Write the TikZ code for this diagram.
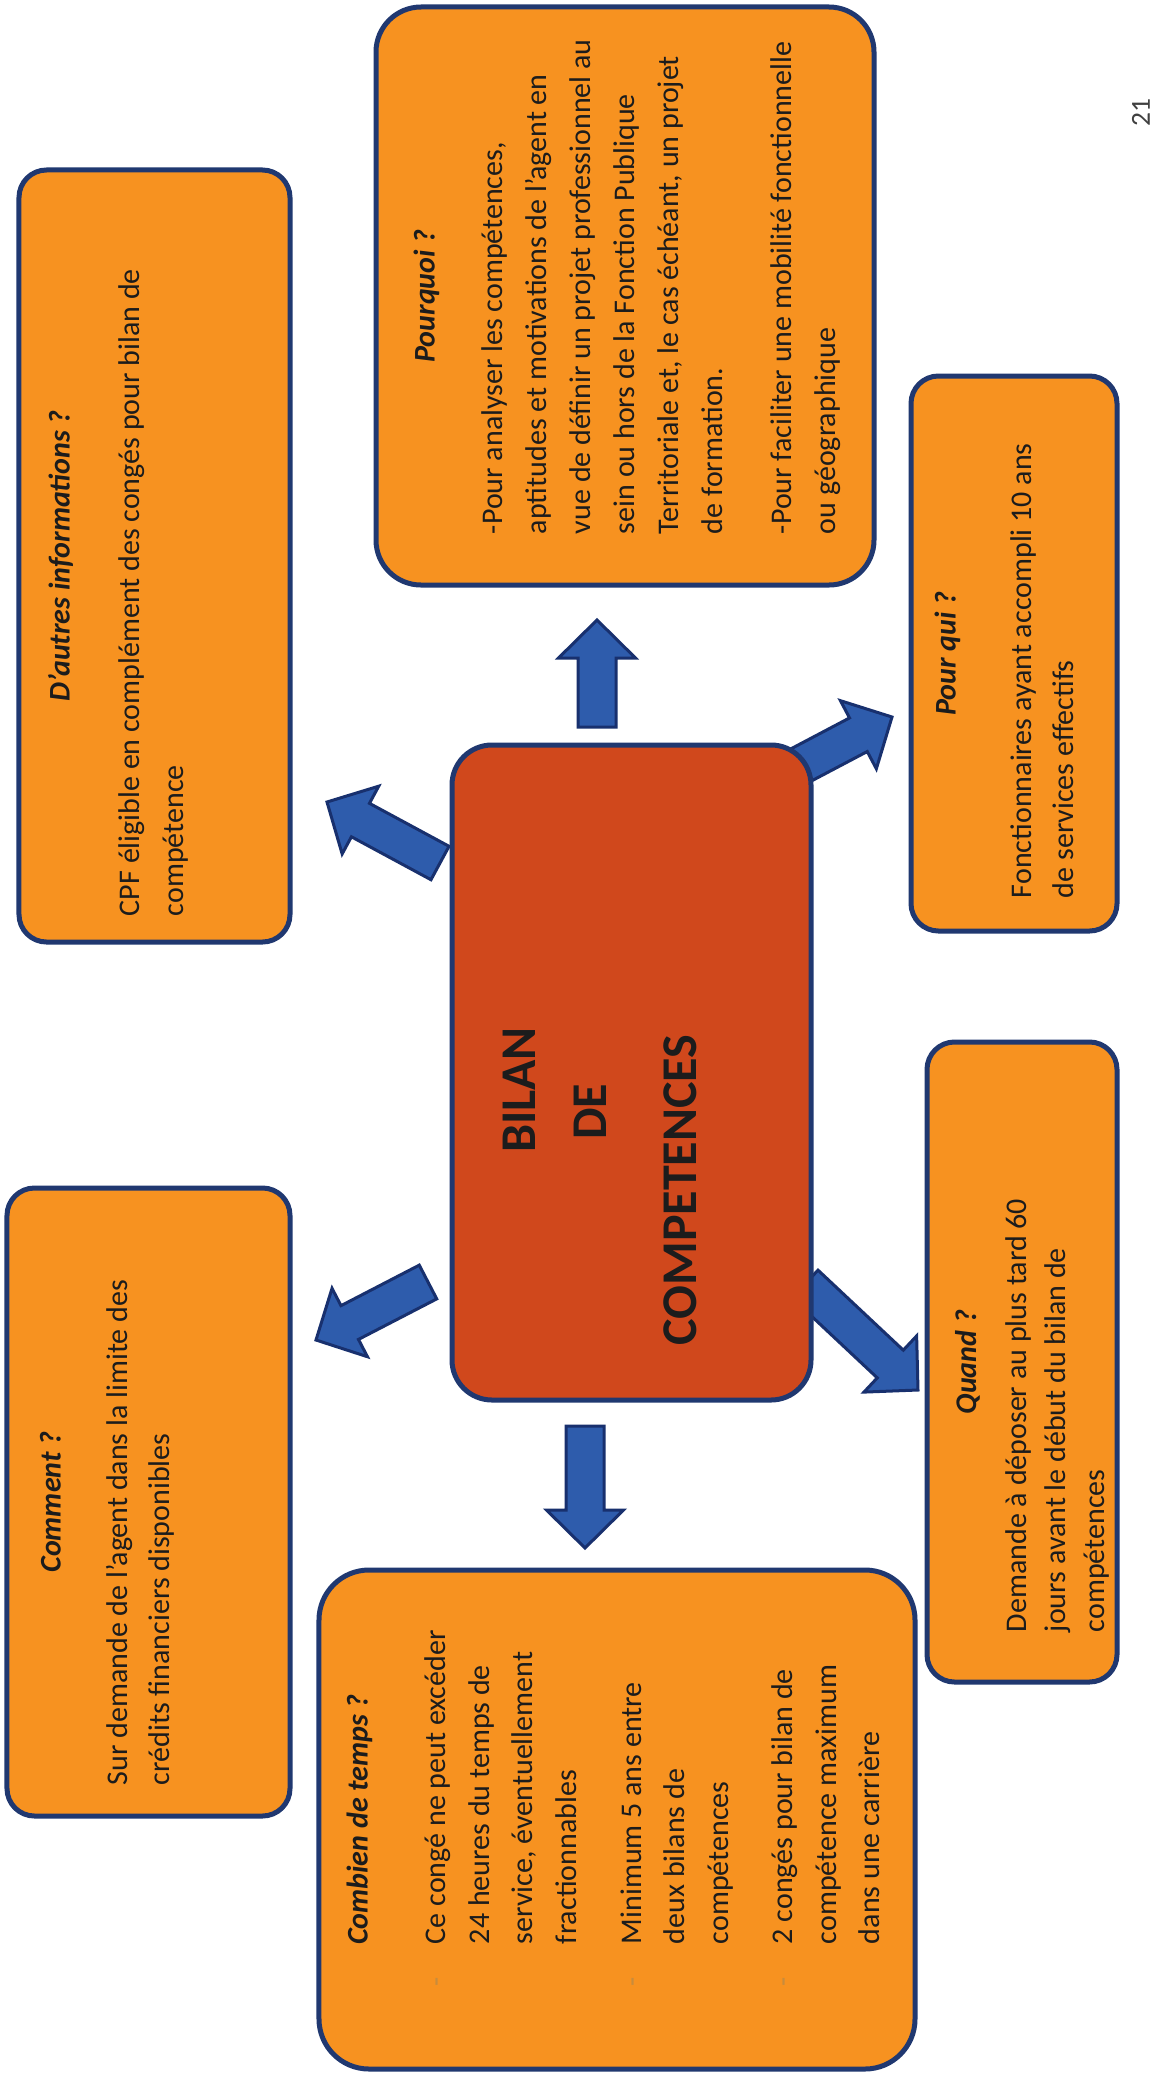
\documentclass[tikz,border=0pt]{standalone}
\usepackage{fontspec}
\setmainfont{Carlito}
\usetikzlibrary{calc}
\definecolor{boxorange}{RGB}{247,146,32}
\definecolor{boxedge}{RGB}{32,56,112}
\definecolor{bilanred}{RGB}{208,72,28}
\definecolor{arrowblue}{RGB}{46,92,172}
\definecolor{arrowedge}{RGB}{24,48,110}
\definecolor{inktext}{RGB}{28,28,28}
\definecolor{bulletc}{RGB}{200,140,60}
\newcommand{\bul}{\makebox[16.8pt][l]{\textcolor{bulletc}{-}}}
\newcommand{\ind}{\hspace*{16.8pt}}
\begin{document}
\begin{tikzpicture}[x=0.4pt, y=-0.4pt, line join=round,
	card/.style={draw=boxedge, fill=boxorange, line width=2pt, rotate=90, inner sep=0pt, rounded corners=#1},
	card/.default=11pt,
	cardtitle/.style={rotate=90, inner sep=0pt, text=inktext, font=\bfseries\itshape\fontsize{12}{14}\selectfont},
	cardtext/.style={rotate=90, anchor=north west, align=left, inner sep=0pt, text=inktext, font=\fontsize{12}{16.8}\selectfont},
	bigword/.style={rotate=90, inner sep=0pt, text=inktext, font=\bfseries\fontsize{20}{24}\selectfont},
	fatarrow/.style={draw=arrowedge, fill=arrowblue, line width=1.2pt, line join=miter,
		to path={($(\tikztostart)!7.6pt!90:(\tikztotarget)$)
			-- ($($(\tikztotarget)!15.2pt!(\tikztostart)$)!7.6pt!-90:(\tikztostart)$)
			-- ($($(\tikztotarget)!15.2pt!(\tikztostart)$)!15.4pt!-90:(\tikztostart)$)
			-- (\tikztotarget)
			-- ($($(\tikztotarget)!15.2pt!(\tikztostart)$)!15.4pt!90:(\tikztostart)$)
			-- ($($(\tikztotarget)!15.2pt!(\tikztostart)$)!7.6pt!90:(\tikztostart)$)
			-- ($(\tikztostart)!7.6pt!-90:(\tikztotarget)$) -- cycle}}]
	\fill[white] (0,0) rectangle (1168,2087);
	\useasboundingbox (0,0) rectangle (1168,2087);
	% arrows first, the central card covers their tails
	\coordinate (up-s) at (597,727);   \coordinate (up-t) at (597,620);
	\coordinate (ul-s) at (440,863);   \coordinate (ul-t) at (327,802);
	\coordinate (ur-s) at (782,775);   \coordinate (ur-t) at (892,717);
	\coordinate (ll-s) at (428,1282);  \coordinate (ll-t) at (316,1340);
	\coordinate (dn-s) at (585,1426);  \coordinate (dn-t) at (585,1548);
	\coordinate (lr-s) at (805,1284);  \coordinate (lr-t) at (918,1390);
	\foreach \a in {up,ul,ur,ll,dn,lr}
	\draw[fatarrow] (\a-s) to (\a-t);
	% cards
	\node[card=16pt, fill=bilanred, minimum width=262pt, minimum height=143.6pt] (bilan) at (631.5,1072.5) {};
	\node[card=18pt, minimum width=231.2pt, minimum height=199.2pt] (pourquoi) at (625,296) {};
	\node[card, minimum width=308.8pt, minimum height=108.4pt] (autres) at (154.5,556) {};
	\node[card, minimum width=222pt, minimum height=82.4pt] (pourqui) at (1014,653.5) {};
	\node[card, minimum width=251.2pt, minimum height=113.2pt] (comment) at (148.5,1502) {};
	\node[card, minimum width=256pt, minimum height=76pt] (quand) at (1022,1362) {};
	\node[card=20pt, minimum width=199.6pt, minimum height=238.4pt] (combien) at (617,1819.5) {};
	% texts
	\node[bigword] (bilan-t1) at (519,1090) {BILAN};
	\node[bigword] (bilan-t2) at (590,1112) {DE};
	\node[bigword] (bilan-t3) at (680,1190) {COMPETENCES};
	\node[cardtitle] (pourquoi-t) at ($(pourquoi.north)+(53,0)$) {Pourquoi ?};
	\node[cardtext, font=\fontsize{12}{17.6}\selectfont] (pourquoi-b) at ($(pourquoi.north west)+(108,-53)$) {-Pour analyser les compétences,\\aptitudes et motivations de l’agent en\\vue de définir un projet professionnel au\\sein ou hors de la Fonction Publique\\Territoriale et, le cas échéant, un projet\\de formation.\\[10pt]-Pour faciliter une mobilité fonctionnelle\\ou géographique};
	\node[cardtitle] (autres-t) at ($(autres.north)+(44,0)$) {D’autres informations ?};
	\node[cardtext, font=\fontsize{12}{17.6}\selectfont] (autres-b) at ($(autres.north west)+(102,-28)$) {CPF éligible en complément des congés pour bilan de\\compétence};
	\node[cardtitle] (pourqui-t) at ($(pourqui.north)+(39,0)$) {Pour qui ?};
	\node[cardtext] (pourqui-b) at ($(pourqui.north west)+(102,-35)$) {Fonctionnaires ayant accompli 10 ans\\de services effectifs};
	\node[cardtitle] (comment-t) at ($(comment.north)+(46,0)$) {Comment ?};
	\node[cardtext] (comment-b) at ($(comment.north west)+(101,-33)$) {Sur demande de l’agent dans la limite des\\crédits financiers disponibles};
	\node[cardtitle] (quand-t) at ($(quand.north)+(43,0)$) {Quand ?};
	\node[cardtext, font=\fontsize{12}{15.6}\selectfont] (quand-b) at ($(quand.north west)+(81,-52)$) {Demande à déposer au plus tard 60\\jours avant le début du bilan de\\compétences};
	\node[cardtitle] (combien-t) at ($(combien.north)+(43,0)$) {Combien de temps ?};
	\node[cardtext, font=\fontsize{12}{17.4}\selectfont] (combien-b) at ($(combien.north west)+(108,-85)$) {\bul Ce congé ne peut excéder\\\ind 24 heures du temps de\\\ind service, éventuellement\\\ind fractionnables\\[8.5pt]\bul Minimum 5 ans entre\\\ind deux bilans de\\\ind compétences\\[8.5pt]\bul 2 congés pour bilan de\\\ind compétence maximum\\\ind dans une carrière};
	\node[rotate=90, inner sep=0pt, text=black!75, font=\fontsize{11}{13}\selectfont] (pagenum) at (1141,113) {21};
\end{tikzpicture}
\end{document}
